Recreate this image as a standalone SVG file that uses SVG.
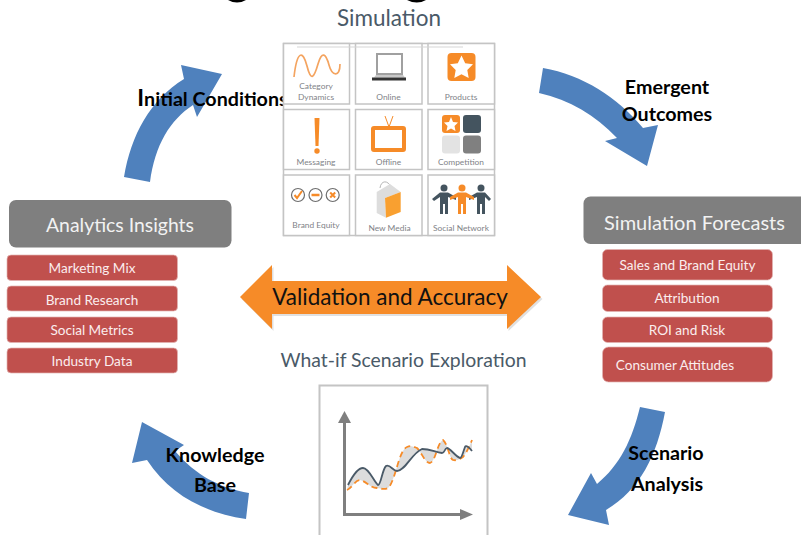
<svg xmlns="http://www.w3.org/2000/svg" width="801" height="535" viewBox="0 0 801 535">
<style>
text{font-family:"Lato","Carlito","Liberation Sans",sans-serif}
.t{text-anchor:middle}
.head{fill:#7F7F7F}
.headt{fill:#F2F2F2;font-size:20px;text-anchor:middle}
.item{fill:#C0504D;stroke:#E3B5B3;stroke-width:.7}
.itemt{fill:#FBEDED;font-size:13.6px;text-anchor:middle}
.flow{fill:#4F81BD}
.lab{fill:#000;font-weight:700;font-size:19.7px;text-anchor:middle}
.sec{fill:#4A5A68;font-size:22.5px;text-anchor:middle}
.cell{fill:#fff;stroke:#C4C4C4;stroke-width:1.5}
.cap{fill:#7F8388;font-size:8.4px;text-anchor:middle}
.or{fill:#F68B28}
.dk{fill:#44545F}
</style>
<rect width="801" height="535" fill="#fff"/>
<path id="title-remnant" d="M228,0Q237,5 246,0ZM407,0Q417,5 426,0Z" fill="#000"/>
<g id="connectors">
<path class="flow" d="M124,177C131,135 150,100 184,79L181,65L222,74L197,117L193,105C170,120 155,145 150,182Z"/>
<path class="flow" d="M543,68C583,75 617,97 643,128L658,125L647,166L605,141L617,138C595,115 570,100 539,93Z"/>
<path class="flow" d="M640,407C632,440 620,465 597,484L591,473L568,515L609,525L606,510C640,490 657,455 665,412Z"/>
<path class="flow" d="M142,422L184,445L175,451C195,475 220,488 249,493L246,519C205,513 170,495 147,460L132,463Z"/>
<text class="lab" x="212.500" y="106"><tspan font-size="23">I</tspan>nitial Conditions</text>
<text class="lab" x="667" y="94">Emergent</text>
<text class="lab" x="667" y="121">Outcomes</text>
<text class="lab" x="666" y="460">Scenario</text>
<text class="lab" x="667" y="491">Analysis</text>
<text class="lab" x="215" y="462">Knowledge</text>
<text class="lab" x="215" y="492">Base</text>
</g>
<g id="validation">
<path d="M240,297L272,265V281H507V265L541,297L507,329V314H272V329Z" fill="#000" opacity=".12" transform="translate(1.500,2)"/>
<path class="or" d="M240,297L272,265V281H507V265L541,297L507,329V314H272V329Z"/>
<text x="390" y="305" class="t" font-size="22.500" fill="#111">Validation and Accuracy</text>
</g>
<g id="simulation">
<text class="sec" x="389" y="26">Simulation</text>
<rect x="283.500" y="43.500" width="211" height="192" fill="#fff" stroke="#C4C4C4" stroke-width="1.500"/>
<rect class="cell" x="283.500" y="43.500" width="66" height="60.500"/>
<rect class="cell" x="355.500" y="43.500" width="66.500" height="60.500"/>
<rect class="cell" x="428" y="43.500" width="66.500" height="60.500"/>
<rect class="cell" x="283.500" y="109.500" width="66" height="60"/>
<rect class="cell" x="355.500" y="109.500" width="66.500" height="60"/>
<rect class="cell" x="428" y="109.500" width="66.500" height="60"/>
<rect class="cell" x="283.500" y="175" width="66" height="60.500"/>
<rect class="cell" x="355.500" y="175" width="66.500" height="60.500"/>
<rect class="cell" x="428" y="175" width="66.500" height="60.500"/>
<path d="M297,47H463" stroke="#D5D5D5" stroke-width="1" fill="none"/>
<path d="M294,77C297,50 303,50 307,66C311,82 314,78 318,64C322,50 326,54 329,65C332,76 340,78 340,64" fill="none" stroke="#F4A460" stroke-width="1.700"/>
<text class="cap" x="316" y="89">Category</text>
<text class="cap" x="316" y="100">Dynamics</text>
<rect x="377" y="54" width="25" height="20" fill="#fff" stroke="#A0A0A0" stroke-width="2"/>
<path d="M376,75H403L405,77.500H374Z" fill="#C8C8C8"/>
<rect x="372" y="77.500" width="34" height="3" fill="#333"/>
<text class="cap" x="388.500" y="100">Online</text>
<rect class="or" x="447.500" y="53" width="28" height="28" rx="4"/>
<path fill="#fff" d="M461.500,55.500L465.200,63.200L473,64.300L467.300,70L468.700,78L461.500,74.200L454.300,78L455.700,70L450,64.300L457.800,63.200Z"/>
<text class="cap" x="461" y="100">Products</text>
<path class="or" d="M314.500,118H319.500L318.500,146H315.500Z"/>
<circle class="or" cx="317" cy="151" r="2.700"/>
<text class="cap" x="316" y="165">Messaging</text>
<path d="M385,116L389,127L393,116" fill="none" stroke="#F68B28" stroke-width="1"/>
<rect x="373" y="128" width="31" height="22" rx="1" fill="#fff" stroke="#F68B28" stroke-width="4"/>
<text class="cap" x="388.500" y="165">Offline</text>
<rect class="or" x="442" y="115" width="18" height="18" rx="3"/>
<path fill="#fff" d="M451,117L453,122L458,122.500L454.500,126L455.500,131L451,128.500L446.500,131L447.500,126L444,122.500L449,122Z"/>
<rect class="dk" x="463" y="115" width="18" height="18" rx="3"/>
<rect fill="#E3E3E3" x="442" y="135.500" width="18" height="18" rx="3"/>
<rect fill="#808080" x="463" y="135.500" width="18" height="18" rx="3"/>
<text class="cap" x="461" y="165">Competition</text>
<g fill="#fff" stroke="#6E6E6E" stroke-width="1.200"><circle cx="298" cy="195" r="6.500"/><circle cx="315.500" cy="195" r="6.500"/><circle cx="332.700" cy="195" r="6.500"/></g>
<path d="M294.500,195L297,198L302,191" fill="none" stroke="#F68B28" stroke-width="2"/>
<path d="M311.500,195H319.500" stroke="#F68B28" stroke-width="2.500"/>
<path d="M330.200,192.500L335.200,197.500M335.200,192.500L330.200,197.500" stroke="#F68B28" stroke-width="2"/>
<text class="cap" x="316" y="228">Brand Equity</text>
<path d="M380,188C381,180 388,180 391,187" fill="none" stroke="#B5B5B5" stroke-width="1"/>
<path d="M376.700,192L390,184L400.700,192L385,198L386,217.700L376.700,213Z" fill="#DDDDDD"/>
<path d="M385,198L400.700,192V212L386,217.700Z" fill="#F9A030"/>
<text class="cap" x="389.500" y="231">New Media</text>
<g id="people">
<g class="dk"><circle cx="444" cy="188" r="3.500"/><circle cx="481" cy="188" r="3.500"/><path d="M432,199L440,192.500H448L456,197V200L448,197V214H445V204H443V214H440V197L434,201Z"/><path d="M491,199L485,192.500H477L469,197V200L477,197V214H480V204H482V214H485V197L489,201Z"/></g>
<g class="or"><circle cx="462" cy="188" r="3.500"/><path d="M450,197L458,192.500H466L474,197V200L466,197V214H463V204H461V214H458V197L450,200Z"/></g>
</g>
<text class="cap" x="461" y="231">Social Network</text>
</g>
<g id="analytics">
<rect class="head" x="9" y="200" width="222.500" height="47.500" rx="7"/>
<text class="headt" x="120" y="232" style="font-size:19.400px">Analytics Insights</text>
<rect class="item" x="7" y="255" width="170.500" height="25.500" rx="4"/>
<text class="itemt" x="92" y="273">Marketing Mix</text>
<rect class="item" x="7" y="286" width="170.500" height="25" rx="4"/>
<text class="itemt" x="92" y="305">Brand Research</text>
<rect class="item" x="7" y="317" width="170.500" height="25.500" rx="4"/>
<text class="itemt" x="92" y="335">Social Metrics</text>
<rect class="item" x="7" y="348" width="170.500" height="25" rx="4"/>
<text class="itemt" x="92" y="366">Industry Data</text>
</g>
<g id="forecasts">
<rect class="head" x="583.500" y="196.500" width="225" height="47.500" rx="7"/>
<text class="headt" x="694.500" y="230">Simulation Forecasts</text>
<rect class="item" x="602.500" y="249.500" width="170" height="30.500" rx="5"/>
<text class="itemt" x="687.500" y="270">Sales and Brand Equity</text>
<rect class="item" x="602.500" y="285" width="170" height="26.500" rx="5"/>
<text class="itemt" x="687" y="303">Attribution</text>
<rect class="item" x="602.500" y="317" width="170" height="25.500" rx="5"/>
<text class="itemt" x="687" y="335">ROI and Risk</text>
<rect class="item" x="602.500" y="347" width="170" height="35" rx="6"/>
<text class="itemt" x="675" y="370">Consumer Attitudes</text>
</g>
<g id="scenario">
<text class="sec" x="403.500" y="367" style="font-size:19.400px">What-if Scenario Exploration</text>
<path d="M319.500,535V385.500H487.500V535" fill="#fff" stroke="#C4C4C4" stroke-width="2"/>
<path d="M347,490C352,488 355,480 360,480C366,481 370,488 377,488C383,489 386,490 389,487C396,478 399,450 407,447C412,445 414,447 417,448C422,453 425,463 430,463C436,461 437,443 443,440C448,444 449,458 453,460C457,461 460,459 463,457C467,452 470,445 472,440L472,451C469,447 466,445 465,447C463,452 462,458 460,458C455,456 450,448 447,448C444,449 445,453 442,453C435,452 430,449 422,449C412,453 405,471 397,471C393,471 390,464 386,466C382,470 381,485 378,485C374,482 369,468 363,468C357,468 352,477 348,485Z" fill="#DCDCDC"/>
<path d="M347,490C352,488 355,480 360,480C366,481 370,488 377,488C383,489 386,490 389,487C396,478 399,450 407,447C412,445 414,447 417,448C422,453 425,463 430,463C436,461 437,443 443,440C448,444 449,458 453,460C457,461 460,459 463,457C467,452 470,445 472,440" fill="none" stroke="#F68B28" stroke-width="1.800" stroke-dasharray="6 4"/>
<path d="M348,485C352,477 357,468 363,468C369,468 374,482 378,485C381,485 382,470 386,466C390,464 393,471 397,471C405,471 412,453 422,449C430,449 435,452 442,453C445,453 444,449 447,448C450,448 455,456 460,458C462,458 463,452 465,447C466,445 469,447 472,451" fill="none" stroke="#4A5A68" stroke-width="1.800"/>
<path d="M344.500,420V514.500H460" fill="none" stroke="#7F7F7F" stroke-width="3"/>
<path d="M344.500,411L351,423H338Z" fill="#7F7F7F"/>
<path d="M473,514.500L460,509V520Z" fill="#7F7F7F"/>
</g>
</svg>
